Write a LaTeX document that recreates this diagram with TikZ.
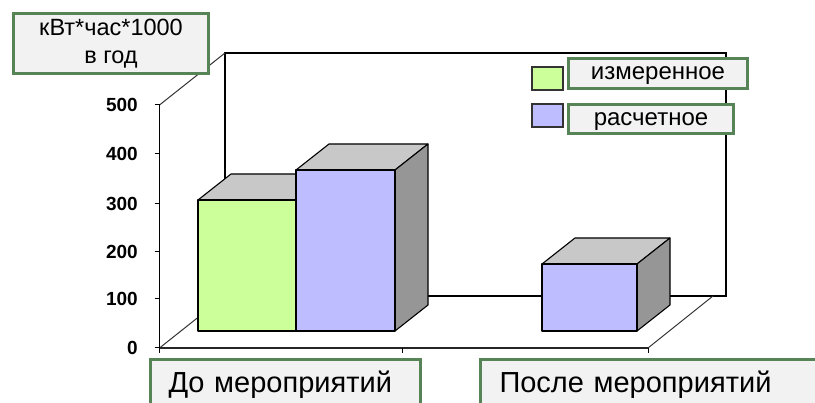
\documentclass[tikz,border=0pt]{standalone}
\usepackage{fontspec}
\setmainfont{Liberation Sans}
\definecolor{boxgreen}{RGB}{86,132,86}
\definecolor{boxfill}{RGB}{242,242,242}
\definecolor{bargreen}{RGB}{204,255,153}
\definecolor{barblue}{RGB}{189,189,255}
\definecolor{topgray}{RGB}{200,200,200}
\definecolor{sidegray}{RGB}{150,150,150}
\newcommand\drawcube[5]{%
  \fill[#5] (#1,#3) rectangle (#2,#4);
  \filldraw[face, fill=topgray] (#1,#3) -- ++(33,-26) -- (#2+33,#3-26) -- (#2,#3) -- cycle;
  \filldraw[face, fill=sidegray] (#2,#3) -- ++(33,-26) -- (#2+33,#4-26) -- (#2,#4) -- cycle;
  \draw[face] (#1,#3) rectangle (#2,#4);
}
\begin{document}
\begin{tikzpicture}[x=1pt,y=-1pt,
  wall/.style={line width=1.2pt, black},
  diag/.style={line width=1pt, black!80},
  ax/.style={line width=1.8pt, black!85},
  tickmark/.style={line width=1pt, black},
  num/.style={font=\fontsize{19}{22}\selectfont\bfseries, anchor=east, inner sep=0pt},
  gbox/.style={draw=boxgreen, line width=3pt, fill=boxfill, inner ysep=0pt},
  swatch/.style={draw=black!80, line width=1.2pt},
  face/.style={draw=black, line width=1.1pt, line join=round},
]
\useasboundingbox (0,0) rectangle (815,403);
\clip (0,0) rectangle (815,403);
% axis frame coordinates
\coordinate (O) at (159.5,348);
\coordinate (F500) at (159.5,105);
\coordinate (B0) at (225,296);
\coordinate (B500) at (225,53);
\coordinate (BR500) at (726,53);
\coordinate (BR0) at (726,296);
\coordinate (FR0) at (648,348);
\coordinate (BRf) at (713,296);
% back wall and floor
\draw[wall] (B0) -- (B500) -- (BR500) -- (BR0) -- (B0);
\draw[diag] (F500) -- (B500);
\draw[diag] (O) -- (B0);
\draw[diag] (FR0) -- (BRf);
% value axis
\draw[wall] (O) -- (F500);
\foreach \v/\y in {0/348,100/299,200/252,300/204,400/154,500/105}{
  \draw[tickmark] (154.5,\y) -- (159.5,\y);
  \node[num] (n\v) at (138,\y) {\v};
}
% category axis
\draw[ax] (O) -- (FR0);
\foreach \x in {159.5,402,648}{
  \draw[tickmark] (\x,348) -- (\x,353);
}
% bars
\drawcube{198}{296}{200}{331}{bargreen}
\drawcube{296}{395}{170}{331}{barblue}
\drawcube{542}{637}{264}{331}{barblue}
% unit label
\node[gbox, minimum width=195pt, minimum height=60pt, align=center,
      font=\fontsize{23.5}{28}\selectfont] (unit) at (111,44)
      {кВт*час*1000\\в год};
% legend
\draw[swatch, fill=bargreen] (532,67) rectangle (563,90);
\draw[swatch, fill=barblue] (532,104) rectangle (563,127);
\node[gbox, minimum width=179pt, minimum height=30pt, text depth=0pt,
      font=\fontsize{24}{28}\selectfont] (leg1) at (658,73.5) {измеренное};
\node[gbox, minimum width=165pt, minimum height=29pt, text depth=0pt,
      font=\fontsize{24}{28}\selectfont] (leg2) at (651,119) {расчетное};
% category labels
\node[gbox, anchor=north west, minimum height=50pt, inner xsep=18.5pt,
      text width=233pt, align=left, font=\fontsize{29}{32}\selectfont]
      (cat1) at (148.5,358.5) {До мероприятий};
\node[gbox, anchor=north west, minimum height=50pt, inner xsep=19.5pt,
      text width=330pt, align=left, font=\fontsize{29}{32}\selectfont]
      (cat2) at (478.5,358.5) {После мероприятий};
\end{tikzpicture}
\end{document}
